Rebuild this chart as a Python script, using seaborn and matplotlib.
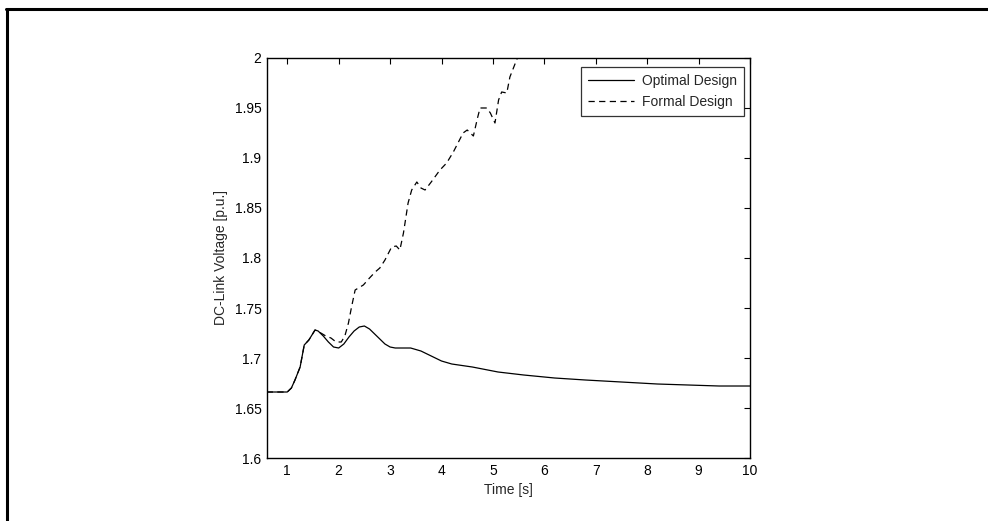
import matplotlib
matplotlib.use("Agg")
import matplotlib.pyplot as plt
from matplotlib.lines import Line2D
import seaborn as sns
import pandas as pd

# Optimal design (solid)
t_opt = [0.6, 1.0, 1.08, 1.15, 1.25, 1.33, 1.42, 1.54, 1.6, 1.7, 1.8, 1.9, 2.0, 2.1,
         2.2, 2.3, 2.4, 2.5, 2.6, 2.7, 2.8, 2.9, 3.0, 3.1, 3.4, 3.6, 3.8, 4.0, 4.2, 4.6,
         5.1, 5.6, 6.2, 6.8, 7.5, 8.2, 8.8, 9.4, 10.0]
v_opt = [1.666, 1.666, 1.670, 1.678, 1.691, 1.713, 1.718, 1.728, 1.727, 1.722, 1.716,
         1.711, 1.710, 1.714, 1.721, 1.727, 1.731, 1.732, 1.729, 1.724, 1.719, 1.714,
         1.711, 1.710, 1.710, 1.707, 1.702, 1.697, 1.694, 1.691, 1.686, 1.683, 1.680,
         1.678, 1.676, 1.674, 1.673, 1.672, 1.672]

# Formal design (dashed)
t_formal = [0.6, 1.0, 1.08, 1.15, 1.25, 1.33, 1.42, 1.54, 1.62, 1.75, 1.85, 1.95, 2.05,
            2.12, 2.19, 2.25, 2.32, 2.48, 2.6, 2.71, 2.8, 2.9, 3.03, 3.12, 3.19, 3.26,
            3.35, 3.42, 3.52, 3.6, 3.68, 3.8, 3.97, 4.1, 4.23, 4.35, 4.42, 4.5, 4.62,
            4.7, 4.75, 4.88, 4.95, 5.04, 5.11, 5.17, 5.27, 5.33, 5.46, 5.52]
v_formal = [1.666, 1.666, 1.670, 1.678, 1.691, 1.713, 1.718, 1.728, 1.726, 1.722, 1.720,
            1.716, 1.716, 1.722, 1.735, 1.751, 1.768, 1.773, 1.780, 1.786, 1.790, 1.798,
            1.811, 1.812, 1.808, 1.825, 1.855, 1.868, 1.876, 1.870, 1.868, 1.876, 1.888,
            1.895, 1.906, 1.918, 1.925, 1.928, 1.922, 1.940, 1.950, 1.950, 1.945, 1.935,
            1.958, 1.966, 1.965, 1.981, 1.998, 2.005]

x_ticks = [1, 2, 3, 4, 5, 6, 7, 8, 9, 10]
y_ticks = [1.6, 1.65, 1.7, 1.75, 1.8, 1.85, 1.9, 1.95, 2.0]
y_tick_labels = ["1.6", "1.65", "1.7", "1.75", "1.8", "1.85", "1.9", "1.95", "2"]

sns.set_style("white")
plt.rcParams['font.family'] = ['Liberation Sans', 'DejaVu Sans']

df_opt = pd.DataFrame({"t": t_opt, "v": v_opt})
df_formal = pd.DataFrame({"t": t_formal, "v": v_formal})

fig = plt.figure(figsize=(9.88, 5.21), dpi=100)
ax = fig.add_axes([0.2702, 0.1209, 0.4889, 0.7678])

sns.lineplot(data=df_opt, x="t", y="v", ax=ax, color="black", lw=0.9,
             label="Optimal Design", estimator=None, sort=False)
sns.lineplot(data=df_formal, x="t", y="v", ax=ax, color="black", lw=0.9,
             linestyle=(0, (5, 3.5)), label="Formal Design", estimator=None, sort=False)

ax.set_xlim(0.605, 10)
ax.set_ylim(1.6, 2.0)
ax.set_xticks(x_ticks)
ax.set_yticks(y_ticks)
ax.set_yticklabels(y_tick_labels)
ax.tick_params(direction="in", length=4, width=0.8, top=True, right=True,
               labelsize=10, colors="black", pad=4)
for s in ax.spines.values():
    s.set_color("black")
    s.set_linewidth(1.0)

ax.set_xlabel("Time [s]", fontsize=10, labelpad=4)
ax.set_ylabel("DC-Link Voltage [p.u.]", fontsize=10, labelpad=5)

leg = ax.legend(loc="upper right", bbox_to_anchor=(0.9876, 0.977), fontsize=10,
                frameon=True, fancybox=False, edgecolor="black", borderaxespad=0,
                handlelength=3.3, handletextpad=0.6, borderpad=0.5, labelspacing=0.5)
leg.get_frame().set_linewidth(0.9)

# outer border (left and top edges only visible)
fig.add_artist(Line2D([6.5 / 988, 6.5 / 988], [0, 1 - 8.5 / 521], color="black", lw=2.2,
                      transform=fig.transFigure))
fig.add_artist(Line2D([6.5 / 988 - 0.001, 1], [1 - 8.5 / 521, 1 - 8.5 / 521], color="black",
                      lw=2.2, transform=fig.transFigure))

fig.savefig("out.png", dpi=100)
